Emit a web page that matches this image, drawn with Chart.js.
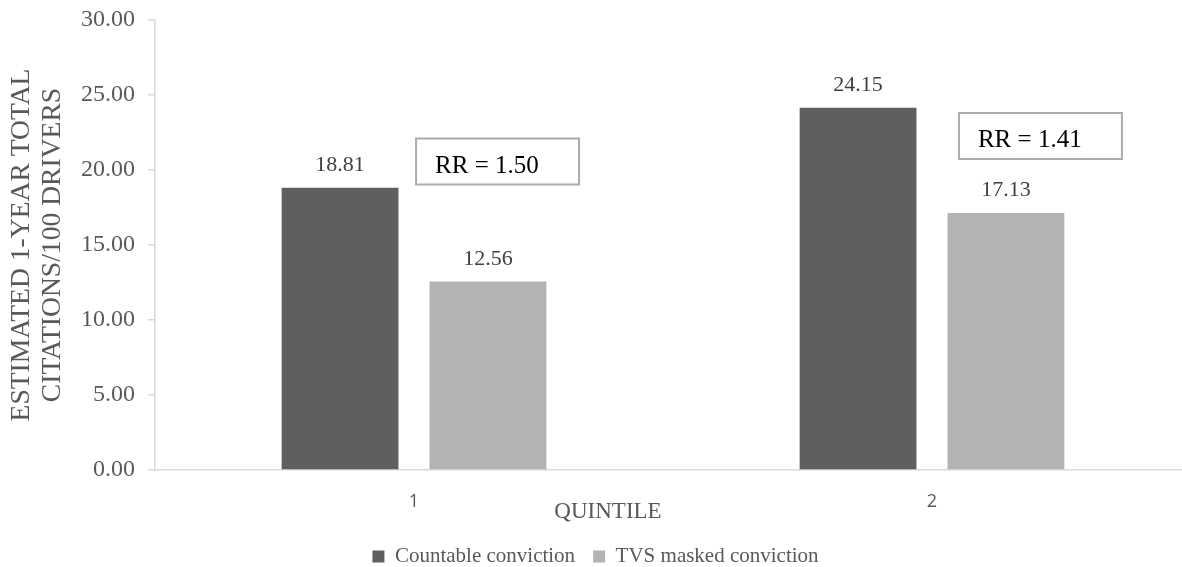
<!DOCTYPE html>
<html>
<head>
<meta charset="utf-8">
<script src="https://cdn.jsdelivr.net/npm/chart.js@4"></script>
<style>
  html, body { margin: 0; padding: 0; background: #ffffff; overflow: hidden; }
  #wrap { width: 1182px; height: 567px; overflow: hidden; position: relative; }
  canvas { display: block; }
</style>
</head>
<body>
<div id="wrap"><canvas id="c" width="1191" height="577"></canvas></div>
<script>
// Values
const categories = ['1', '2'];
const seriesNames = ['Countable conviction', 'TVS masked conviction'];
const countableConviction = [18.81, 24.15];
const tvsMaskedConviction = [12.56, 17.13];
const rateRatioLabels = ['RR = 1.50', 'RR = 1.41'];
const yTickLabels = ['0.00', '5.00', '10.00', '15.00', '20.00', '25.00', '30.00'];
const yAxisTitle = ['ESTIMATED 1-YEAR TOTAL', 'CITATIONS/100 DRIVERS'];
const xAxisTitle = 'QUINTILE';

const SERIF = "'Liberation Serif', 'Times New Roman', serif";
const AXIS_GREY = '#595959';
const LINE_GREY = '#d9d9d9';

// Value labels above each bar
const valueLabels = {
  id: 'valueLabels',
  afterDatasetsDraw(chart) {
    const ctx = chart.ctx;
    ctx.save();
    ctx.font = '22px ' + SERIF;
    ctx.fillStyle = '#404040';
    ctx.textAlign = 'center';
    ctx.textBaseline = 'alphabetic';
    chart.data.datasets.forEach((ds, i) => {
      chart.getDatasetMeta(i).data.forEach((bar, j) => {
        ctx.fillText(ds.data[j].toFixed(2), bar.x, bar.y - 17);
      });
    });
    ctx.restore();
  }
};

// Boxed rate-ratio notes, placed in axis units
const rateRatioBoxes = {
  id: 'rateRatioBoxes',
  afterDraw(chart, args, opts) {
    const ctx = chart.ctx;
    const xs = chart.scales.x, ys = chart.scales.y;
    ctx.save();
    opts.anchors.forEach((a, i) => {
      const left = xs.getPixelForValue(a.x);
      const top = ys.getPixelForValue(a.y);
      ctx.fillStyle = '#ffffff';
      ctx.fillRect(left, top, opts.width, opts.height);
      ctx.strokeStyle = '#ababab';
      ctx.lineWidth = 2;
      ctx.strokeRect(left, top, opts.width, opts.height);
      ctx.font = '25px ' + SERIF;
      ctx.fillStyle = '#000000';
      ctx.textAlign = 'left';
      ctx.textBaseline = 'alphabetic';
      ctx.fillText(rateRatioLabels[i], left + 19, top + 34);
    });
    ctx.restore();
  }
};

// Category-axis title
const categoryTitle = {
  id: 'categoryTitle',
  afterDraw(chart, args, opts) {
    const ctx = chart.ctx;
    ctx.save();
    ctx.font = '23px ' + SERIF;
    ctx.fillStyle = AXIS_GREY;
    ctx.textAlign = 'center';
    ctx.textBaseline = 'alphabetic';
    ctx.fillText(xAxisTitle, opts.x, opts.y);
    ctx.restore();
  }
};

new Chart(document.getElementById('c'), {
  type: 'bar',
  data: {
    labels: categories,
    datasets: [
      {
        label: seriesNames[0],
        data: countableConviction,
        backgroundColor: '#5f5f5f',
        borderWidth: 0,
        categoryPercentage: 0.571,
        barPercentage: 0.79
      },
      {
        label: seriesNames[1],
        data: tvsMaskedConviction,
        backgroundColor: '#b3b3b3',
        borderWidth: 0,
        categoryPercentage: 0.571,
        barPercentage: 0.79
      }
    ]
  },
  options: {
    responsive: false,
    animation: false,
    devicePixelRatio: 1,
    layout: { padding: { top: 20, left: 0, right: 0, bottom: 0 } },
    scales: {
      x: {
        grid: { display: false, drawTicks: false },
        border: { display: true, color: LINE_GREY, width: 1.5 },
        ticks: {
          padding: 21,
          color: AXIS_GREY,
          font: { family: "'Open Sans', 'Liberation Sans', sans-serif", size: 18 }
        },
        afterFit(scale) { scale.height = 58; }
      },
      y: {
        min: 0,
        max: 30,
        ticks: {
          stepSize: 5,
          padding: 13,
          color: AXIS_GREY,
          font: { family: SERIF, size: 24 },
          callback: (v, i) => yTickLabels[i]
        },
        grid: {
          drawOnChartArea: false,
          drawTicks: true,
          tickLength: 7,
          color: LINE_GREY,
          lineWidth: 1.5
        },
        border: { display: true, color: LINE_GREY, width: 1.5 },
        title: {
          display: true,
          text: yAxisTitle,
          color: AXIS_GREY,
          font: { family: SERIF, size: 27.6, lineHeight: 1.1 },
          padding: { top: 7, bottom: 0 }
        },
        afterFit(scale) {
          scale.width = 155;
          scale.paddingTop = 0;
          scale.paddingBottom = 0;
        }
      }
    },
    plugins: {
      legend: {
        position: 'bottom',
        labels: {
          color: AXIS_GREY,
          font: { family: SERIF, size: 21 },
          boxWidth: 12,
          boxHeight: 12,
          padding: 18
        }
      },
      tooltip: { enabled: false },
      rateRatioBoxes: {
        anchors: [ { x: 0.004, y: 22.1 }, { x: 1.052, y: 23.8 } ],
        width: 163,
        height: 46
      },
      categoryTitle: { x: 608, y: 518 }
    }
  },
  plugins: [valueLabels, rateRatioBoxes, categoryTitle]
});
</script>
</body>
</html>
